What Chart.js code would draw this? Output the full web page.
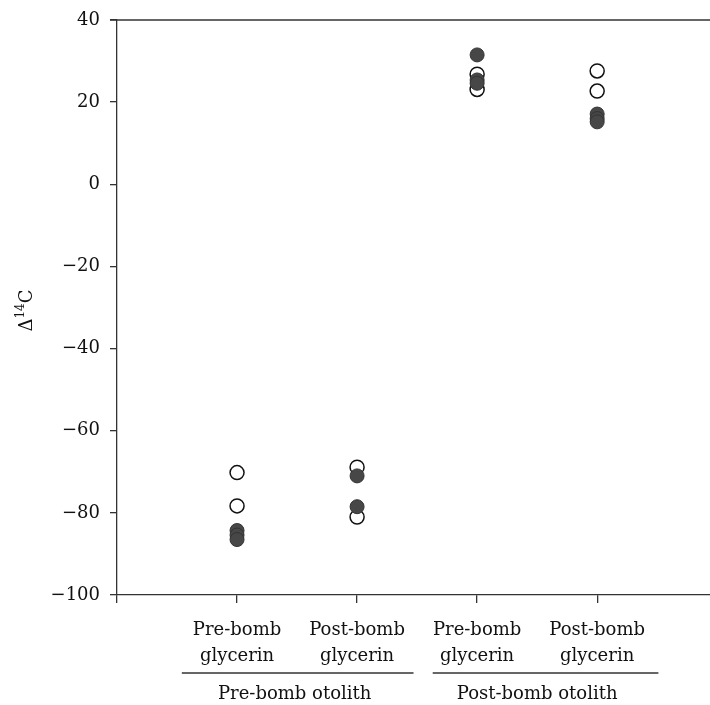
<!DOCTYPE html>
<html>
<head>
<meta charset="utf-8">
<script src="https://cdn.jsdelivr.net/npm/chart.js@4/dist/chart.umd.min.js"></script>
<style>
  html, body { margin: 0; padding: 0; background: #fff; }
  #wrap { width: 710px; height: 705px; }
</style>
</head>
<body>
<div id="wrap"><canvas id="chart" width="710" height="705"></canvas></div>
<script>
  'use strict';

  // categories along x (positions 1..4)
  const categories = [
    ['Pre-bomb', 'glycerin'],
    ['Post-bomb', 'glycerin'],
    ['Pre-bomb', 'glycerin'],
    ['Post-bomb', 'glycerin']
  ];
  const groupLabels = ['Pre-bomb otolith', 'Post-bomb otolith'];

  // open circles, one list per category
  const openValues = [
    [-70.2, -78.3],
    [-68.9, -81.0],
    [26.8, 23.1],
    [27.6, 22.7]
  ];
  // filled circles, one list per category
  const filledValues = [
    [-84.3, -85.4, -86.5],
    [-71.0, -78.5],
    [31.5, 25.4, 24.6],
    [17.1, 16.0, 15.2]
  ];
  const yTicks = [40, 20, 0, -20, -40, -60, -80, -100];

  const FONT = 'DejaVu Serif';
  const INK = '#111';

  function toPoints(lists) {
    const pts = [];
    lists.forEach((vals, i) => vals.forEach((v) => pts.push({ x: i + 1, y: v })));
    return pts;
  }

  const decorations = {
    id: 'decorations',
    afterDraw(chart) {
      const { ctx, chartArea, scales } = chart;
      const xs = scales.x;
      ctx.save();
      // top frame line
      ctx.strokeStyle = '#333';
      ctx.lineWidth = 1.3;
      ctx.beginPath();
      ctx.moveTo(chartArea.left - 7, chartArea.top);
      ctx.lineTo(chartArea.right, chartArea.top);
      ctx.stroke();

      // group underlines and labels
      const spans = [[0.54, 2.47], [2.63, 4.51]];
      const centers = [1.48, 3.5];
      ctx.fillStyle = INK;
      ctx.font = '18px "' + FONT + '"';
      ctx.textAlign = 'center';
      ctx.textBaseline = 'middle';
      spans.forEach((s, i) => {
        const lineY = xs.top + 78;
        ctx.beginPath();
        ctx.moveTo(xs.getPixelForValue(s[0]), lineY);
        ctx.lineTo(xs.getPixelForValue(s[1]), lineY);
        ctx.stroke();
        ctx.fillText(groupLabels[i], xs.getPixelForValue(centers[i]), xs.top + 99);
      });

      // y axis title: Δ14C with superscript
      ctx.translate(26, (chartArea.top + chartArea.bottom) / 2 + 3);
      ctx.rotate(-Math.PI / 2);
      ctx.textAlign = 'left';
      ctx.textBaseline = 'alphabetic';
      const big = '18px "' + FONT + '"';
      const small = '12px "' + FONT + '"';
      ctx.font = big;
      const wD = ctx.measureText('\u0394').width;
      ctx.font = small;
      const w14 = ctx.measureText('14').width;
      ctx.font = big;
      const wC = ctx.measureText('C').width;
      let x0 = -(wD + w14 + wC) / 2;
      ctx.fillText('\u0394', x0, 6);
      ctx.font = small;
      ctx.fillText('14', x0 + wD, -2);
      ctx.font = big;
      ctx.fillText('C', x0 + wD + w14, 6);
      ctx.restore();
    }
  };

  new Chart(document.getElementById('chart'), {
    type: 'scatter',
    data: {
      datasets: [
        {
          label: 'filled',
          data: toPoints(filledValues),
          pointRadius: 7,
          pointHoverRadius: 7,
          backgroundColor: '#474747',
          borderColor: '#333',
          borderWidth: 1
        },
        {
          label: 'open',
          data: toPoints(openValues),
          pointRadius: 7,
          pointHoverRadius: 7,
          backgroundColor: 'rgba(255,255,255,0)',
          borderColor: '#111',
          borderWidth: 1.5
        }
      ]
    },
    options: {
      responsive: false,
      animation: false,
      layout: { autoPadding: false, padding: { top: 20, right: 0, left: 0, bottom: 0 } },
      plugins: { legend: { display: false }, tooltip: { enabled: false } },
      scales: {
        x: {
          type: 'linear',
          min: 0,
          max: 4.94,
          afterFit: (s) => { s.height = 110; s.paddingRight = 0; s.paddingLeft = 0; },
          afterBuildTicks: (s) => { s.ticks = [0, 1, 2, 3, 4].map((v) => ({ value: v })); },
          border: { display: true, color: '#333', width: 1.3 },
          grid: { display: true, drawOnChartArea: false, drawTicks: true, tickLength: 8, color: '#333', lineWidth: 1.3 },
          ticks: {
            color: INK,
            padding: 14,
            maxRotation: 0,
            autoSkip: false,
            font: { family: FONT, size: 18, lineHeight: 1.45 },
            callback: (v) => (v >= 1 && v <= categories.length ? categories[v - 1] : '')
          }
        },
        y: {
          min: -100,
          max: 40,
          afterFit: (s) => { s.width = 117; s.paddingTop = 0; s.paddingBottom = 0; },
          afterBuildTicks: (s) => { s.ticks = yTicks.map((v) => ({ value: v })); },
          border: { display: true, color: '#333', width: 1.3 },
          grid: { display: true, drawOnChartArea: false, drawTicks: true, tickLength: 7, color: '#333', lineWidth: 1.3 },
          ticks: {
            color: INK,
            padding: 10,
            font: { family: FONT, size: 18 },
            callback: (v) => (v < 0 ? '\u2212' + Math.abs(v) : String(v))
          }
        }
      }
    },
    plugins: [decorations]
  });
</script>
</body>
</html>
